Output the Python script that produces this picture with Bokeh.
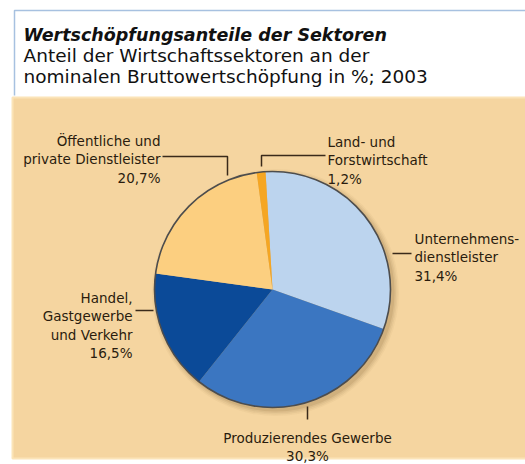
import math
from bokeh.plotting import figure
from bokeh.models import Range1d, ColumnDataSource
from bokeh.core.properties import value
from bokeh.embed import file_html
from bokeh.resources import INLINE

# ---- data (clockwise from 12 o'clock) ----
sectors = ["Unternehmens-\ndienstleister", "Produzierendes Gewerbe",
           "Handel,\nGastgewerbe\nund Verkehr", "Öffentliche und\nprivate Dienstleister",
           "Land- und\nForstwirtschaft"]
shares = [31.4, 30.3, 16.5, 20.7, 1.2]
colors = ["#bcd4ee", "#3b76c1", "#0b4a98", "#fccf80", "#f5a623"]

title = "Wertschöpfungsanteile der Sektoren"
subtitle = ["Anteil der Wirtschaftssektoren an der",
            "nominalen Bruttowertschöpfung in %; 2003"]

# ---- layout (pixels from top-left) ----
W, H = 525, 464
def Y(v):
    return H - v

CX, CY, R = 272, 289, 118
START_DEG = -3.4   # clockwise offset of first slice from 12 o'clock

# label anchors: (x, first baseline, align, leader polyline)
label_layout = [
    (414, 238, "left",   [(392, 253), (411, 253)]),
    (307, 437, "center", [(307, 406), (307, 419)]),
    (132, 297, "right",  [(135, 310), (153, 310)]),
    (160, 140, "right",  [(162, 156), (227, 156), (227, 175)]),
    (327, 141, "left",   [(261, 166), (261, 155), (325, 155)]),
]
LINE_H = 18.5

p = figure(width=W, height=H, x_range=Range1d(0, W), y_range=Range1d(0, H),
           output_backend="svg", toolbar_location=None,
           x_axis_location=None, y_axis_location=None,
           min_border=0, outline_line_color=None)
p.grid.visible = False
p.background_fill_color = "white"
p.border_fill_color = "white"

# title frame
p.line(x=[14, 14, W], y=[Y(95), Y(10), Y(10)], line_color="#a7c1e0", line_width=1.5)
p.text(x=[23], y=[Y(34)], text=[title], text_font=value("DejaVu Sans"),
       text_font_style="bold italic", text_font_size="17.5px", text_color="#111111",
       text_baseline="alphabetic")
p.text(x=[23, 23], y=[Y(55), Y(76)], text=subtitle, text_font=value("DejaVu Sans"),
       text_font_size="18.5px", text_color="#111111", text_baseline="alphabetic")

# tan panel
p.quad(left=12, right=W + 2, bottom=Y(458), top=Y(97), fill_color="#f5d5a0",
       line_color="#fbe4b8", line_width=2)

# shadow
for k, a in enumerate([0.10, 0.08, 0.06, 0.04]):
    p.circle(x=[CX + 3], y=[Y(CY + 3)], radius=R + 1 + k * 1.5,
             fill_color="#6b4a20", fill_alpha=a, line_color=None)

# wedges
total = sum(shares)
cum = 0.0
starts, ends = [], []
for s in shares:
    a0 = math.radians(START_DEG + cum / total * 360.0)
    cum += s
    a1 = math.radians(START_DEG + cum / total * 360.0)
    # convert clockwise-from-top to bokeh angles (ccw from +x)
    starts.append(math.pi / 2 - a1)
    ends.append(math.pi / 2 - a0)
src = ColumnDataSource(dict(start=starts, end=ends, color=colors))
p.wedge(x=CX, y=Y(CY), radius=R, start_angle="start", end_angle="end",
        fill_color="color", line_color=None, source=src)
p.circle(x=[CX], y=[Y(CY)], radius=R, fill_color=None, line_color="#4d4d4d", line_width=1.6)

# leader lines and labels
xs, ys = [], []
tx, ty, tt, ta = [], [], [], []
for name, s, (lx, ly, al, leader) in zip(sectors, shares, label_layout):
    xs.append([pt[0] for pt in leader])
    ys.append([Y(pt[1]) for pt in leader])
    lines = name.split("\n") + [("%.1f" % s).replace(".", ",") + "%"]
    for i, ln in enumerate(lines):
        tx.append(lx)
        ty.append(Y(ly + i * LINE_H))
        tt.append(ln)
        ta.append(al)
p.multi_line(xs=xs, ys=ys, line_color="#3a2a1a", line_width=1.5)
p.text(x="x", y="y", text="t", text_align="a",
       source=ColumnDataSource(dict(x=tx, y=ty, t=tt, a=ta)),
       text_font=value("DejaVu Sans"), text_font_size="13.5px",
       text_color="#2a1c0e", text_baseline="alphabetic")

open("out.html", "w").write(file_html(p, INLINE))
